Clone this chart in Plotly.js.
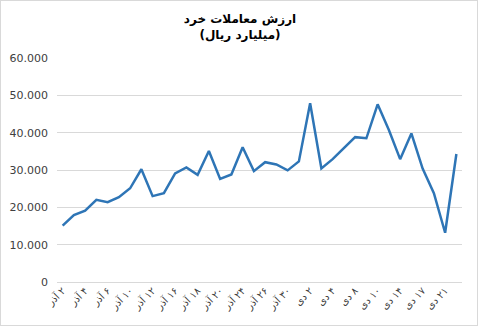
<!DOCTYPE html>
<html>
<head>
<meta charset="utf-8">
<script src="https://cdn.plot.ly/plotly-3.0.1.min.js"></script>
<style>
  html, body { margin: 0; padding: 0; background: #fff; }
  #wrap { position: relative; width: 480px; height: 330px; }
  #chart { position: absolute; left: 0; top: 0; width: 480px; height: 330px; }
  #frame { position: absolute; left: 0; top: 0; width: 478px; height: 326px; box-sizing: border-box; border: 1px solid #d9d9d9; pointer-events: none; }
</style>
</head>
<body>
<div id="wrap"><div id="chart"></div><div id="frame"></div></div>
<script>
// Trading days (Azar / Dey)
const dayNumbers = ["۲","۳","۴","۵","۶","۹","۱۰","۱۱","۱۲","۱۳","۱۶","۱۷","۱۸","۱۹","۲۰","۲۳","۲۴","۲۵","۲۶","۲۷","۳۰",
                    "۱","۲","۳","۴","۷","۸","۹","۱۰","۱۱","۱۴","۱۵","۱۷","۱۸","۲۱","۲۲"];
const monthNames = ["آذر","آذر","آذر","آذر","آذر","آذر","آذر","آذر","آذر","آذر","آذر","آذر","آذر","آذر","آذر","آذر","آذر","آذر","آذر","آذر","آذر",
                    "دی","دی","دی","دی","دی","دی","دی","دی","دی","دی","دی","دی","دی","دی","دی"];
// Retail trade value (billion rials)
const tradeValues = [15100, 17900, 19100, 22000, 21400, 22700, 25100, 30200, 23000, 23800, 29100, 30700,
                     28700, 35100, 27600, 28800, 36100, 29700, 32100, 31500, 29900, 32300, 47900, 30400,
                     32900, 35800, 38800, 38500, 47600, 40700, 32900, 39800, 30400, 23800, 13200, 34300];
const titleLines = ["ارزش معاملات خرد", "(میلیارد ریال)"];

const categories = dayNumbers.map((d, i) => "\u200F" + d + " " + monthNames[i]);

const trace = {
  x: categories,
  y: tradeValues,
  type: "scatter",
  mode: "lines",
  line: { color: "#2E75B6", width: 2.5 },
  hoverinfo: "x+y"
};

const layout = {
  width: 480, height: 330, autosize: false,
  margin: { l: 57, r: 18, t: 58, b: 48, pad: 0 },
  paper_bgcolor: "#ffffff",
  plot_bgcolor: "#ffffff",
  separators: ",.",
  showlegend: false,
  title: {
    text: "<b>" + titleLines.join("<br>") + "</b>",
    font: { family: "DejaVu Sans", size: 12, color: "#000000" },
    xref: "container", x: 0.5, xanchor: "center",
    yref: "container", y: 0.93, yanchor: "top"
  },
  xaxis: {
    type: "category",
    range: [-0.5, categories.length - 0.5],
    tickmode: "linear", tick0: 0, dtick: 2,
    tickangle: -45,
    tickfont: { family: "DejaVu Sans", size: 10, color: "#404040" },
    showgrid: false, zeroline: false, showline: false,
    ticks: "", fixedrange: true
  },
  yaxis: {
    range: [0, 60000],
    tickmode: "linear", tick0: 0, dtick: 10000,
    tickformat: ",d",
    tickfont: { family: "DejaVu Sans", size: 11, color: "#404040" },
    showgrid: true, gridcolor: "#d9d9d9", gridwidth: 1,
    zeroline: true, zerolinecolor: "#d9d9d9", zerolinewidth: 1,
    showline: false, ticks: "", ticklabelstandoff: 8, fixedrange: true
  }
};

Plotly.newPlot("chart", [trace], layout, { displayModeBar: false, staticPlot: true });
</script>
</body>
</html>
